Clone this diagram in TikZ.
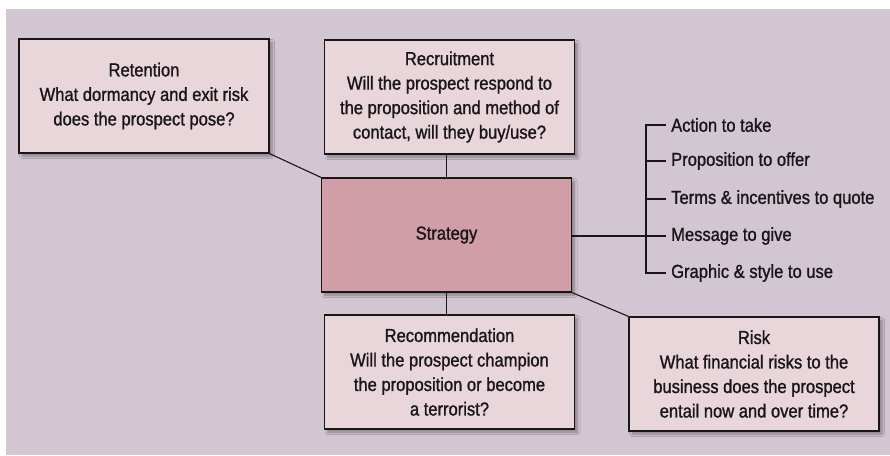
\documentclass[tikz,border=0pt]{standalone}
\usepackage{fontspec}
\setmainfont{Liberation Sans}[FakeStretch=0.88,FakeBold=1.2]
\usetikzlibrary{shadows.blur}
\definecolor{bgcol}{RGB}{210,198,210}
\definecolor{boxcol}{RGB}{233,214,218}
\definecolor{stratcol}{RGB}{209,157,166}
\definecolor{inkcol}{RGB}{25,22,24}
\tikzset{
  box/.style={draw=inkcol, line width=1.3pt, fill=boxcol, minimum width=250pt, minimum height=114pt,
    align=center, inner sep=0pt, text=inkcol, font=\fontsize{18.8}{24.5}\selectfont,
    blur shadow={shadow xshift=3pt, shadow yshift=-3pt, shadow opacity=35, shadow blur steps=6, shadow blur radius=2.5pt}},
  stratbox/.style={box, fill=stratcol},
  item/.style={anchor=west, inner sep=0pt, text=inkcol, font=\fontsize{18.8}{24.5}\selectfont},
  conn/.style={draw=inkcol, line width=1.1pt}
}
\begin{document}
\begin{tikzpicture}[x=1pt, y=-1pt]
\useasboundingbox (0,0) rectangle (890,455);
\fill[white] (0,0) rectangle (890,455);
\fill[bgcol] (6,9) rectangle (890,455);

\node[box] (ret) at (144,96) {Retention\\What dormancy and exit risk\\does the prospect pose?};
\node[box] (rec) at (449.5,97) {Recruitment\\Will the prospect respond to\\the proposition and method of\\contact, will they buy/use?};
\node[stratbox] (str) at (446.5,235) {Strategy};
\node[box] (recm) at (449.5,372) {Recommendation\\Will the prospect champion\\the proposition or become\\a terrorist?};
\node[box] (risk) at (754,374) {Risk\\What financial risks to the\\business does the prospect\\entail now and over time?};

\node[item] (i1) at (671,125) {Action to take};
\node[item] (i2) at (671,161) {Proposition to offer};
\node[item] (i3) at (671,199) {Terms \& incentives to quote};
\node[item] (i4) at (671,236) {Message to give};
\node[item] (i5) at (671,273) {Graphic \& style to use};

\coordinate (bt) at (646,125);
\coordinate (bb) at (646,273);

\draw[conn] (ret.south east) -- (str.north west);
\draw[conn] (str.north) -- (str.north |- rec.south);
\draw[conn] (str.south) -- (str.south |- recm.north);
\draw[conn] (str.south east) -- (risk.north west);
\draw[conn] (str.east |- i4.west) -- ([xshift=-5pt]i4.west);
\draw[conn] ([xshift=-5pt]i1.west) -- (bt) -- (bb) -- ([xshift=-5pt]i5.west);
\draw[conn] ([xshift=-5pt]i2.west) -- (i2.west -| bt);
\draw[conn] ([xshift=-5pt]i3.west) -- (i3.west -| bt);
\end{tikzpicture}
\end{document}
